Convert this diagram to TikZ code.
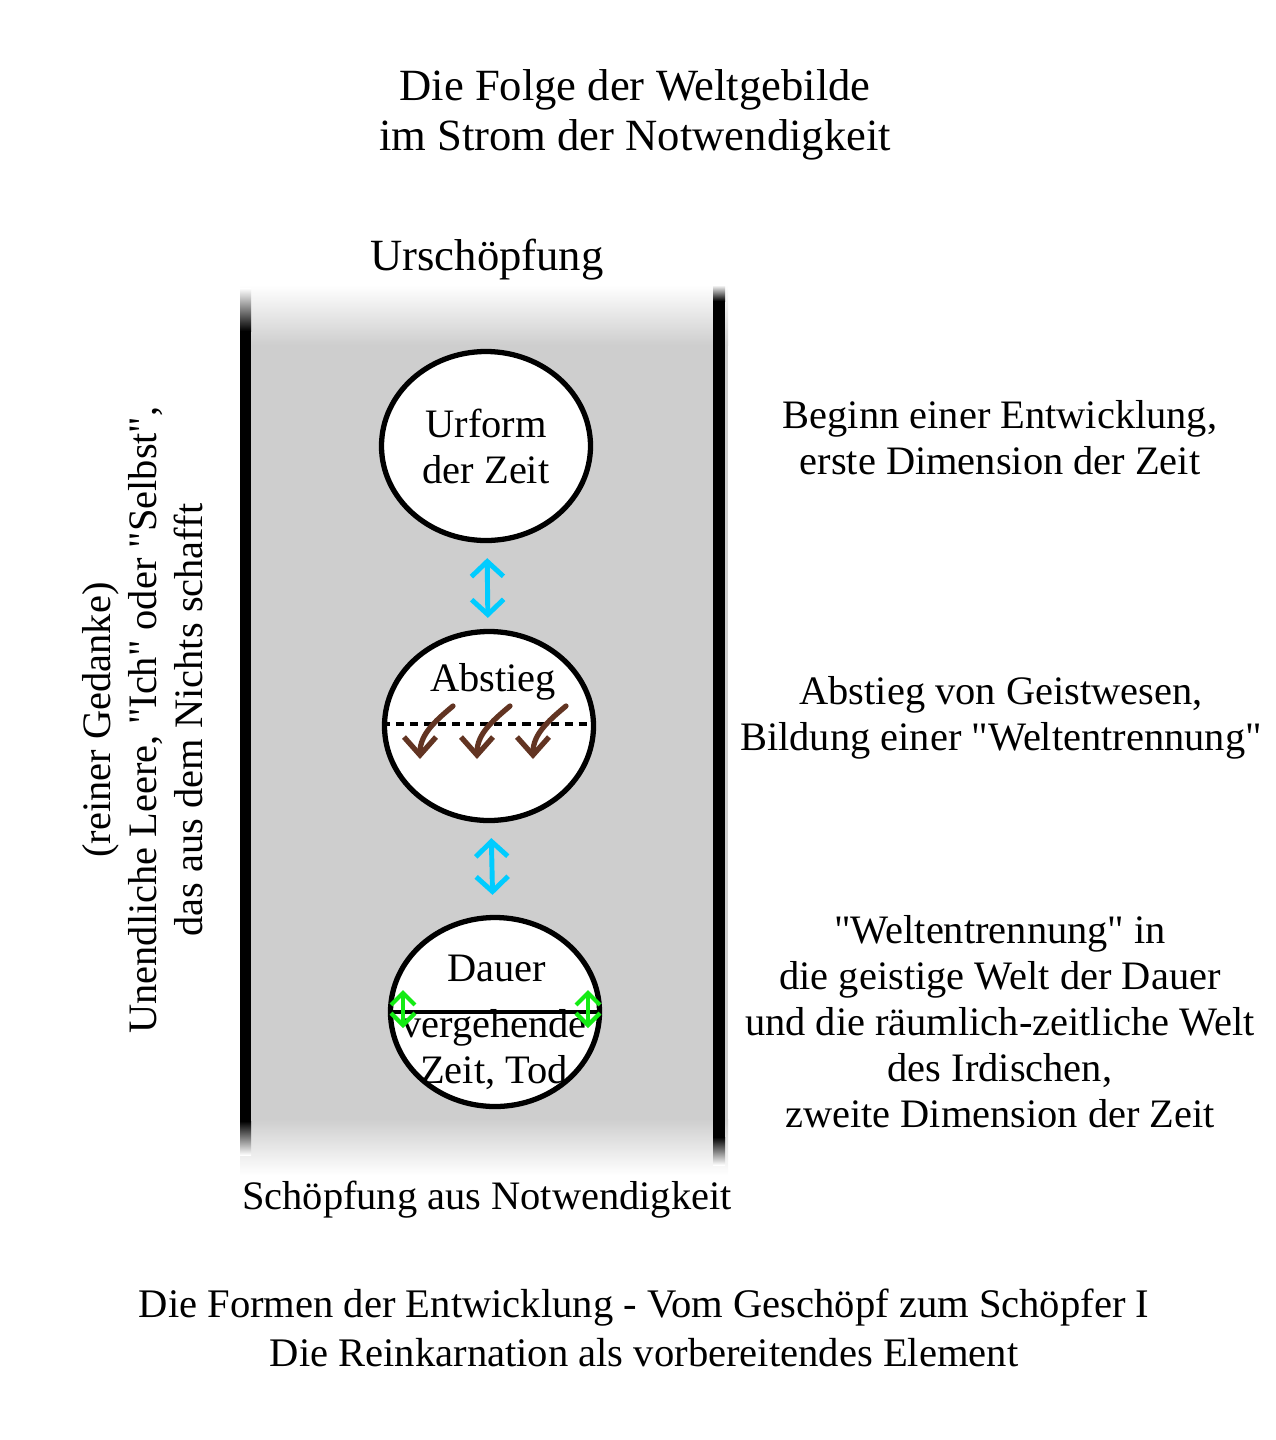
\documentclass[tikz,border=0pt]{standalone}
\usepackage{fontspec}
\setmainfont{Liberation Serif}
\usepackage{tikz}
\usetikzlibrary{arrows.meta,positioning,calc,shapes.geometric}
\definecolor{bandgray}{RGB}{206,206,206}
\definecolor{flowcyan}{RGB}{0,204,255}
\definecolor{swinggreen}{RGB}{20,235,20}
\definecolor{descentbrown}{RGB}{98,52,34}
\newcommand{\qd}{\textquotedbl}

\begin{document}
\begin{tikzpicture}[
  big/.style={font=\fontsize{12.7}{14.2}\selectfont, align=center},
  body/.style={font=\fontsize{11.5}{13.1}\selectfont, align=center},
  sphere/.style={
    ellipse, draw, line width=1.5pt, fill=white,
    minimum width=2.09cm, minimum height=1.89cm,
    inner sep=0pt, body
  },
  flow/.style={
    {Straight Barb[length=1.5mm,width=3.2mm]}-{Straight Barb[length=1.5mm,width=3.2mm]},
    draw=flowcyan, line width=1.4pt, line cap=round
  },
  swing/.style={
    {Straight Barb[length=1.2mm,width=2.4mm]}-{Straight Barb[length=1.2mm,width=2.4mm]},
    draw=swinggreen, line width=1.2pt, line cap=round
  },
  descent/.style={
    -{Straight Barb[length=1.8mm,width=3.2mm]},
    draw=descentbrown, line width=1.5pt, line cap=round
  }
]
\useasboundingbox (0,0) rectangle (12.75,-14.4);

% band
\fill[bandgray] (2.40,-3.44) rectangle (7.28,-11.20);
\shade[top color=white, bottom color=bandgray] (2.40,-2.85) rectangle (7.28,-3.45);
\shade[top color=bandgray, bottom color=white] (2.40,-11.19) rectangle (7.28,-11.75);
\fill (2.40,-3.30) rectangle (2.51,-11.22);
\shade[top color=white, bottom color=black] (2.40,-2.88) rectangle (2.51,-3.31);
\shade[top color=black, bottom color=white] (2.40,-11.21) rectangle (2.51,-11.55);
\fill (7.13,-3.00) rectangle (7.25,-11.38);
\shade[top color=white, bottom color=black] (7.13,-2.85) rectangle (7.25,-3.01);
\shade[top color=black, bottom color=white] (7.13,-11.37) rectangle (7.25,-11.65);

\node[big] (title) at (6.35,-1.15) {Die Folge der Weltgebilde\\im Strom der Notwendigkeit};
\node[big] (urschoepfung) at (4.87,-2.60) {Urschöpfung};
\node[body] (notwendigkeit) at (4.87,-12.00) {Schöpfung aus Notwendigkeit};

\node[sphere] (urform) at (4.86,-4.46) {Urform\\der Zeit};
\node[sphere] (abstieg) at (4.89,-7.26) {};
\node[sphere] (dauer) at (4.95,-10.12) {};

\node[body] (abstieglbl) at ($(abstieg.center)+(0.04,0.44)$) {Abstieg};
\draw[line width=0.9pt, dash pattern=on 2.3pt off 1.7pt]
  ($(abstieg.west)+(0,0.02)$) -- ($(abstieg.east)+(0,0.02)$);
\foreach \dx in {-0.69,-0.12,0.44}
  \draw[descent] ($(abstieg.center)+(\dx+0.33,0.20)$) to[out=220,in=90]
    ($(abstieg.center)+(\dx,-0.33)$);

\draw[line width=1.4pt] (dauer.west) -- (dauer.east);
\node[body] (dauerlbl) at ($(dauer.center)+(0.02,0.44)$) {Dauer};
\node[body] (zeitlbl) at ($(dauer.center)+(-0.01,-0.38)$) {vergehende\\Zeit, Tod};
\foreach \dx in {-0.92,0.93}
  \draw[swing] ($(dauer.center)+(\dx,0.22)$) -- ($(dauer.center)+(\dx,-0.16)$);

\draw[flow, shorten <=0.15cm, shorten >=0.11cm] (urform) -- (abstieg);
\draw[flow, shorten <=0.15cm, shorten >=0.20cm] (abstieg) -- (dauer);

\node[body, rotate=90] (leere) at (1.43,-7.2)
  {(reiner Gedanke)\\Unendliche Leere, \qd Ich\qd{} oder \qd Selbst\qd,\\das aus dem Nichts schafft};

\node[body] (beginn) at (10.0,-4.38) {Beginn einer Entwicklung,\\erste Dimension der Zeit};
\node[body] (geistwesen) at (10.01,-7.18) {Abstieg von Geistwesen,\\Bildung einer \qd Weltentrennung\qd};
\node[body] (trennung) at (10.0,-10.22) {%
  \qd Weltentrennung\qd{} in\\
  die geistige Welt der Dauer\\
  und die räumlich-zeitliche Welt\\
  des Irdischen,\\
  zweite Dimension der Zeit%
};

\node[body, font=\fontsize{11.55}{14}\selectfont] (formen) at (6.44,-13.28)
  {Die Formen der Entwicklung - Vom Geschöpf zum Schöpfer I\\
  Die Reinkarnation als vorbereitendes Element};
\end{tikzpicture}
\end{document}
